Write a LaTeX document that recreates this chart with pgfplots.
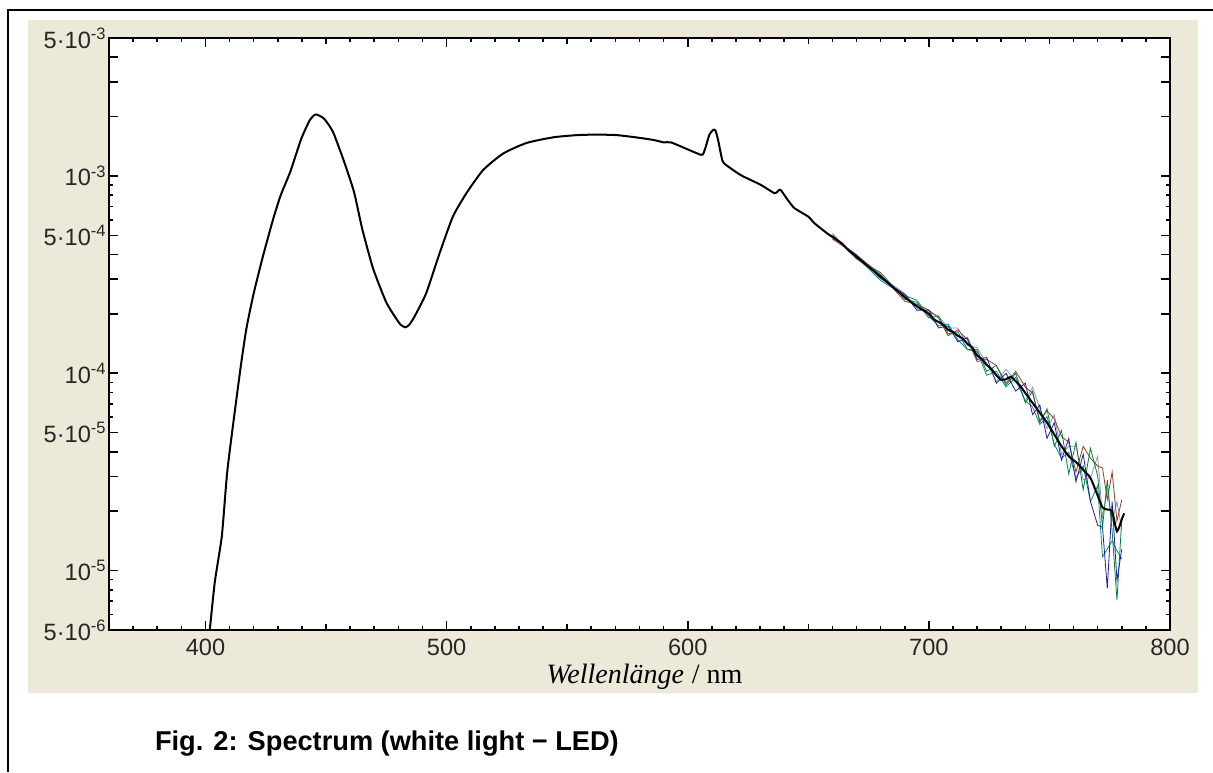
\documentclass[border=0pt]{standalone}
\usepackage{fontspec}
\setmainfont{Liberation Sans}
\newfontfamily\timesfont{Liberation Serif}
\usepackage{pgfplots}
\pgfplotsset{compat=1.18}
\usepackage{pgfplotstable}
\definecolor{beige}{RGB}{236,233,216}
\definecolor{cblue}{RGB}{30,30,160}
\definecolor{cgreen}{RGB}{0,130,60}
\definecolor{cred}{RGB}{150,60,40}
\definecolor{cteal}{RGB}{0,140,140}
\definecolor{cgray}{RGB}{150,150,175}

\pgfplotstableread{
x y
401.3 4.0e-6
401.8 5.0e-6
403.9 8.8e-6
406.8 1.50e-5
409.0 3.14e-5
411.9 6.05e-5
414.8 1.12e-4
417.0 1.69e-4
420.0 2.54e-4
423.6 3.82e-4
428.0 6.00e-4
431.2 7.98e-4
435.3 1.06e-3
439.7 1.54e-3
443.4 1.93e-3
445.8 2.05e-3
449.2 1.95e-3
452.9 1.67e-3
457.3 1.20e-3
461.6 8.30e-4
465.0 5.40e-4
469.5 3.40e-4
474.9 2.30e-4
479.0 1.90e-4
481.0 1.76e-4
482.9 1.71e-4
484.5 1.76e-4
486.7 1.94e-4
491.5 2.54e-4
497.1 4.06e-4
502.6 6.22e-4
508.2 8.17e-4
515.1 1.07e-3
523.5 1.30e-3
533.2 1.47e-3
544.3 1.57e-3
554.0 1.61e-3
562.0 1.62e-3
570.7 1.61e-3
580.0 1.56e-3
586.0 1.52e-3
590.0 1.48e-3
593.0 1.48e-3
599.0 1.38e-3
605.4 1.28e-3
606.5 1.30e-3
607.5 1.41e-3
609.0 1.62e-3
610.5 1.71e-3
611.5 1.70e-3
612.6 1.52e-3
614.0 1.25e-3
615.0 1.16e-3
622.0 1.01e-3
630.4 9.00e-4
636.0 8.17e-4
637.5 8.40e-4
638.5 8.50e-4
641.5 7.55e-4
644.3 6.86e-4
650.0 6.22e-4
652.6 5.75e-4
658.0 5.10e-4
663.8 4.56e-4
666.5 4.22e-4
670 3.89e-4
680 3.09e-4
690 2.43e-4
695 2.19e-4
700 2.00e-4
702 1.88e-4
704 1.82e-4
706 1.76e-4
708 1.66e-4
710 1.62e-4
712 1.55e-4
714 1.50e-4
716 1.41e-4
718 1.35e-4
720 1.23e-4
722 1.18e-4
724 1.10e-4
726 1.05e-4
728 9.77e-5
730 9.25e-5
732 9.33e-5
734 9.60e-5
736 9.12e-5
738 8.60e-5
740 7.94e-5
743 7.08e-5
746 6.31e-5
749 5.62e-5
752 4.90e-5
755 4.27e-5
758 3.80e-5
761 3.55e-5
764 3.24e-5
767 2.95e-5
770 2.40e-5
772 2.09e-5
774 2.04e-5
776 2.00e-5
778 1.58e-5
780 1.82e-5
781 1.95e-5
}\meanspec

\pgfplotstableread{
x b g r t s
660 4.898e-4 5.012e-4 4.786e-4 5.012e-4 5.129e-4
670 3.981e-4 3.802e-4 3.981e-4 3.890e-4 3.802e-4
680 3.020e-4 3.236e-4 3.162e-4 2.951e-4 3.090e-4
690 2.512e-4 2.371e-4 2.317e-4 2.483e-4 2.541e-4
695 2.089e-4 2.291e-4 2.239e-4 2.344e-4 2.138e-4
700 2.089e-4 1.905e-4 2.089e-4 1.950e-4 2.042e-4
704 1.698e-4 1.950e-4 1.905e-4 1.738e-4 1.950e-4
708 1.738e-4 1.585e-4 1.549e-4 1.778e-4 1.698e-4
712 1.445e-4 1.622e-4 1.660e-4 1.479e-4 1.698e-4
716 1.514e-4 1.318e-4 1.479e-4 1.318e-4 1.380e-4
720 1.175e-4 1.318e-4 1.148e-4 1.288e-4 1.349e-4
724 1.202e-4 1.023e-4 1.175e-4 9.772e-5 1.122e-4
728 8.913e-5 1.096e-4 1.096e-4 1.023e-4 9.120e-5
732 1.000e-4 8.710e-5 8.913e-5 8.511e-5 1.047e-4
736 8.128e-5 1.000e-4 1.023e-4 9.550e-5 9.120e-5
740 8.913e-5 7.079e-5 8.511e-5 7.244e-5 7.244e-5
743 6.166e-5 8.128e-5 7.943e-5 6.761e-5 8.511e-5
746 6.918e-5 5.623e-5 5.754e-5 5.495e-5 6.607e-5
749 4.677e-5 6.607e-5 6.457e-5 6.026e-5 5.248e-5
752 5.623e-5 4.266e-5 5.888e-5 4.365e-5 6.166e-5
755 3.631e-5 5.129e-5 4.786e-5 3.715e-5 3.890e-5
758 4.677e-5 3.090e-5 4.467e-5 3.981e-5 4.266e-5
761 2.818e-5 4.467e-5 3.162e-5 2.951e-5 4.266e-5
764 3.890e-5 2.570e-5 4.266e-5 3.388e-5 2.884e-5
767 2.239e-5 4.169e-5 3.715e-5 2.239e-5 2.951e-5
770 1.698e-5 3.020e-5 3.388e-5 2.692e-5 3.802e-5
772 1.660e-5 1.660e-5 3.311e-5 1.175e-5 1.862e-5
774 8.128e-6 2.884e-5 2.291e-5 1.288e-5 2.570e-5
776 2.239e-5 1.585e-5 3.162e-5 1.413e-5 1.778e-5
778 8.913e-6 7.079e-6 1.778e-5 1.259e-5 2.239e-5
780 1.288e-5 1.820e-5 2.291e-5 1.148e-5 1.622e-5
}\runs

\begin{document}
\begin{tikzpicture}
\begin{scope}[x=0.5pt,y=0.5pt]
\path[use as bounding box] (0,0) rectangle (1213,772);
\fill[white] (0,0) rectangle (1213,772);
\draw[line width=1pt] (8,0) -- (8,762) -- (1213,762);
\fill[beige] (28,79) rectangle (1198,752);
\node[anchor=base west, font=\bfseries\fontsize{13.6}{16}\selectfont] at (148,22) {Fig. 2: Spectrum (white light − LED)};
\end{scope}
\begin{axis}[
  at={(54.5pt,71pt)}, anchor=south west,
  scale only axis, width=530.5pt, height=296pt,
  xmin=360, xmax=800, ymin=5e-6, ymax=5e-3, ymode=log,
  axis background/.style={fill=white},
  axis line style={line width=0.8pt},
  every tick/.style={line width=0.8pt, black},
  tick align=inside,
  major tick length=4.5pt, minor tick length=2pt,
  xtick={400,500,600,700,800},
  xticklabels={400,500,600,700,800},
  minor xtick={370,380,390,410,420,430,440,460,470,480,490,510,520,530,540,560,570,580,590,610,620,630,640,660,670,680,690,710,720,730,740,760,770,780,790},
  extra x ticks={450,550,650,750},
  extra x tick labels={},
  extra x tick style={major tick length=3pt},
  ytick={5e-6,1e-5,5e-5,1e-4,5e-4,1e-3,5e-3},
  yticklabels={5·10\textsuperscript{-6},10\textsuperscript{-5},5·10\textsuperscript{-5},10\textsuperscript{-4},5·10\textsuperscript{-4},10\textsuperscript{-3},5·10\textsuperscript{-3}},
  minor ytick={6e-6,7e-6,8e-6,9e-6,6e-5,7e-5,8e-5,9e-5,6e-4,7e-4,8e-4,9e-4},
  extra y ticks={2e-5,3e-5,4e-5,2e-4,3e-4,4e-4,2e-3,3e-3,4e-3},
  extra y tick labels={},
  tick label style={font=\fontsize{11.8}{14}\selectfont, text=black!85},
  yticklabel style={inner sep=1pt},
  xticklabel style={inner sep=0pt, yshift=-4.5pt},
  xlabel={{\timesfont\itshape Wellenlänge\/} {\timesfont / nm}},
  xlabel style={at={(axis description cs:0.5,0)}, anchor=base, inner sep=0pt, xshift=2.5pt, yshift=-26.5pt, font=\fontsize{14}{16}\selectfont},
  clip=true,
]
\addplot[cgray, line width=0.4pt] table[x=x,y=s] {\runs};
\addplot[cteal, line width=0.4pt] table[x=x,y=t] {\runs};
\addplot[cred, line width=0.4pt] table[x=x,y=r] {\runs};
\addplot[cgreen, line width=0.4pt] table[x=x,y=g] {\runs};
\addplot[cblue, line width=0.4pt] table[x=x,y=b] {\runs};
\addplot[black, line width=1pt, smooth, tension=0.35] table[x=x,y=y] {\meanspec};
\end{axis}
\end{tikzpicture}
\end{document}
